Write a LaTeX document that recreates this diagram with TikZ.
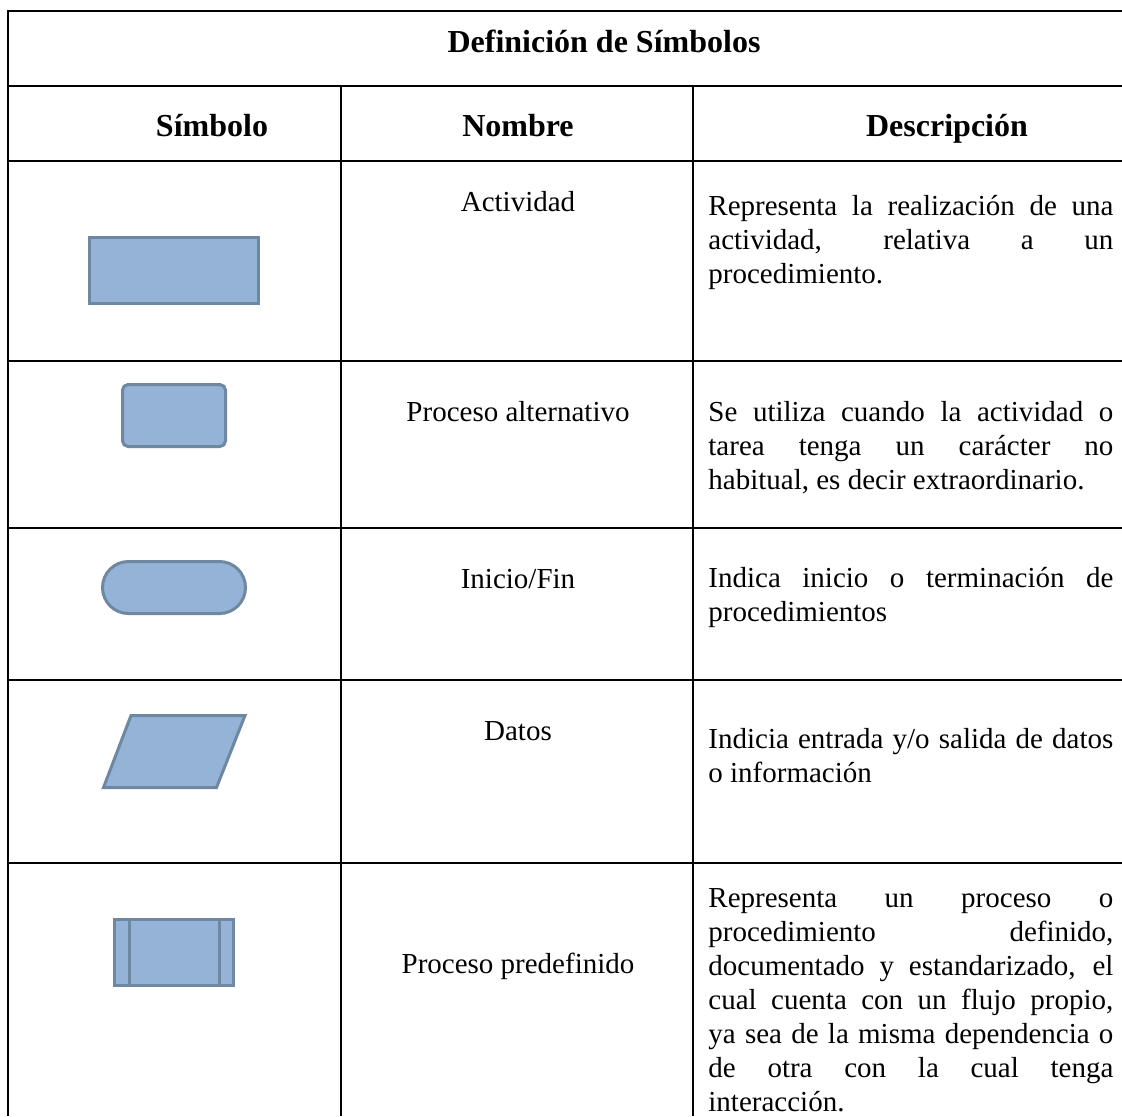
\documentclass[tikz,border=0pt]{standalone}
\usepackage{fontspec}
\setmainfont{Liberation Serif}
\definecolor{symfill}{RGB}{149,179,215}
\definecolor{symline}{RGB}{109,136,160}
\tolerance=10000
\hyphenpenalty=10000
\tikzset{
	tabline/.style={line width=1pt},
	symbol/.style={fill=symfill, draw=symline, line width=1.5pt},
	headtxt/.style={anchor=base, inner sep=0pt, font=\fontsize{16}{19}\selectfont\bfseries},
	nametxt/.style={anchor=base, inner sep=0pt, font=\fontsize{14.5}{17}\selectfont},
	desctxt/.style={anchor=base west, inner sep=0pt, font=\fontsize{14.5}{17}\selectfont},
}

\begin{document}
\begin{tikzpicture}[x=0.5pt, y=-0.5pt]
	
	\useasboundingbox (0,0) rectangle (1122,1116);
	
	% table
	\draw[tabline] (7.5,1116) -- (7.5,10.7) -- (1122,10.7);
	\draw[tabline] (7.5,86) -- (1122,86);
	\draw[tabline] (7.5,161) -- (1122,161);
	\draw[tabline] (7.5,361) -- (1122,361);
	\draw[tabline] (7.5,527.5) -- (1122,527.5);
	\draw[tabline] (7.5,680) -- (1122,680);
	\draw[tabline] (7.5,863) -- (1122,863);
	\draw[tabline] (341,86) -- (341,1116);
	\draw[tabline] (693,86) -- (693,1116);
	
	\node[headtxt] (tt) at (604, 52) {Definición de Símbolos};
	\node[headtxt] (h1) at (212, 136) {Símbolo};
	\node[headtxt] (h2) at (518, 136) {Nombre};
	\node[headtxt] (h3) at (947, 136) {Descripción};
	
	% actividad
	\draw[symbol] (89.5,237.5) rectangle (258.5,303.5);
	\node[nametxt] (n1) at (518, 211) {Actividad};
	\node[desctxt] (d1) at (708, 215) {\parbox[t]{202.5pt}{Representa la realización de una\linebreak
		actividad, relativa a un\linebreak procedimiento.}};
	
	% proceso alternativo
	\draw[symbol, rounded corners=2.8pt] (122.5,384.5) rectangle (225.5,446.5);
	\node[nametxt] (n2) at (518, 421) {Proceso alternativo};
	\node[desctxt] (d2) at (708, 421) {\parbox[t]{202.5pt}{Se utiliza cuando la actividad o\linebreak
		tarea tenga un carácter no\linebreak habitual, es decir extraordinario.}};
	
	% inicio / fin
	\draw[symbol, rounded corners=13pt] (102.5,561.5) rectangle (245.5,613.5);
	\node[nametxt] (n3) at (518, 588) {Inicio/Fin};
	\node[desctxt] (d3) at (708, 587) {\parbox[t]{202.5pt}{Indica inicio o terminación de\linebreak
		procedimientos}};
	
	% datos
	\draw[symbol] (131,715.5) -- (245,715.5) -- (216.5,787.5) -- (103.5,787.5) -- cycle;
	\node[nametxt] (n4) at (518, 740) {Datos};
	\node[desctxt] (d4) at (708, 748) {\parbox[t]{202.5pt}{Indicia entrada y/o salida de datos\linebreak
		o información}};
	
	% proceso predefinido
	\draw[symbol] (114.5,919.5) rectangle (233.5,985.5);
	\draw[symbol] (129,919.5) -- (129,985.5);
	\draw[symbol] (219,919.5) -- (219,985.5);
	\node[nametxt] (n5) at (518, 973) {Proceso predefinido};
	\node[desctxt] (d5) at (708, 907) {\parbox[t]{202.5pt}{Representa un proceso o\linebreak
		procedimiento definido,\linebreak documentado y estandarizado, el\linebreak
		cual cuenta con un flujo propio,\linebreak ya sea de la misma dependencia o\linebreak
		de otra con la cual tenga\linebreak interacción.}};
	
\end{tikzpicture}
\end{document}
